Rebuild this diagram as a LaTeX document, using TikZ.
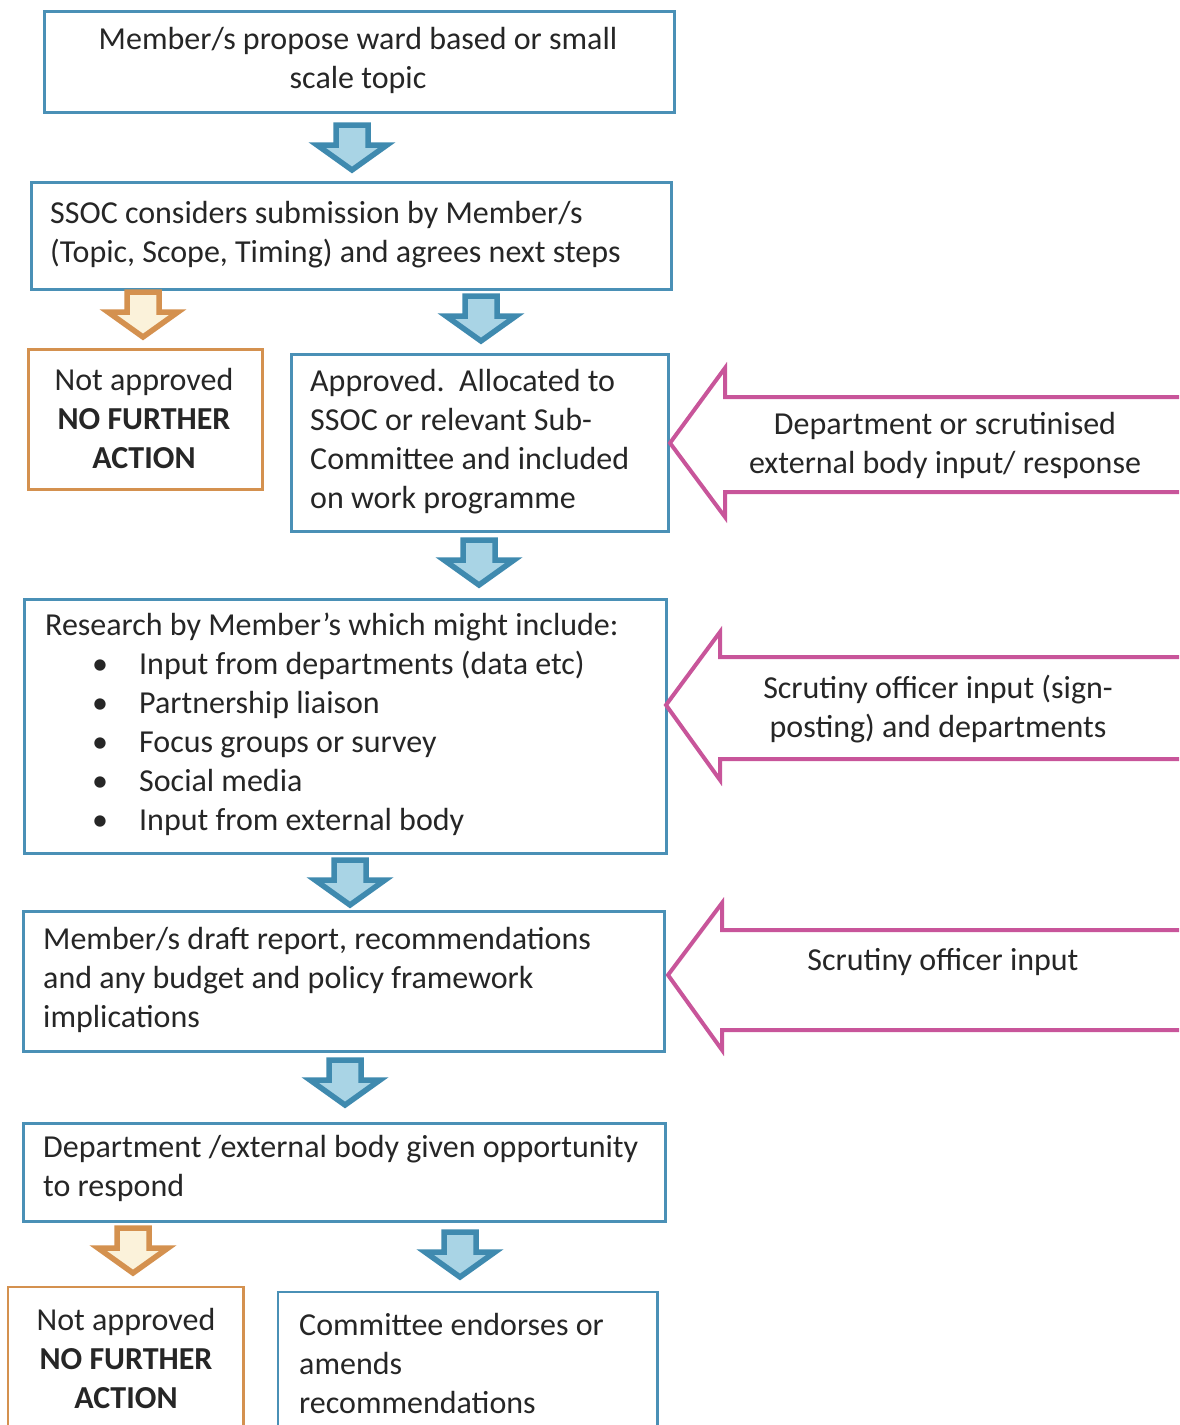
\documentclass[tikz,border=0pt]{standalone}
\usepackage{fontspec}
\setmainfont{Carlito}
\definecolor{boxblue}{HTML}{4A90B6}
\definecolor{arrblue}{HTML}{3F8AAF}
\definecolor{arrfill}{HTML}{A9D4E5}
\definecolor{boxorange}{HTML}{D4914F}
\definecolor{arrofill}{HTML}{FBF2DA}
\definecolor{pinkline}{HTML}{C8559A}
\definecolor{txt}{HTML}{262626}
\newcommand{\blockdn}[3]{%
  \draw[#3] ({#1-16},{#2+2}) -- ({#1+16},{#2+2}) -- ({#1+16},{#2+22}) -- ({#1+35},{#2+22})
    -- ({#1},{#2+47}) -- ({#1-35},{#2+22}) -- ({#1-16},{#2+22}) -- cycle;}
\begin{document}
\begin{tikzpicture}[x=1pt,y=-1pt,
  every node/.style={font=\fontsize{32}{39}\selectfont, text=txt},
  bluebox/.style={draw=boxblue, line width=2.5pt, fill=white, anchor=north west, inner sep=0pt},
  orangebox/.style={draw=boxorange, line width=2.5pt, fill=white, anchor=north west, inner sep=0pt},
  openbox/.style={draw=none, anchor=north west, inner sep=0pt},
  blueblock/.style={draw=arrblue, fill=arrfill, line width=5.5pt, line join=miter},
  orangeblock/.style={draw=boxorange, fill=arrofill, line width=5.5pt, line join=miter},
  pinkarrow/.style={draw=pinkline, fill=white, line width=4pt, line join=miter},
  lefttext/.style={anchor=west, align=left, inner sep=0pt},
  centertext/.style={anchor=center, align=center, inner sep=0pt}
]
\useasboundingbox (0,0) rectangle (1179,1425);

% boxes
\node[bluebox, minimum width=630pt, minimum height=101pt] (b1) at (43,10) {};
\node[bluebox, minimum width=640pt, minimum height=107pt] (b2) at (30,181) {};
\node[orangebox, minimum width=234pt, minimum height=140pt] (n1) at (27,348) {};
\node[bluebox, minimum width=377pt, minimum height=177pt] (b3) at (290,353) {};
\node[bluebox, minimum width=642pt, minimum height=254pt] (b4) at (23,598) {};
\node[bluebox, minimum width=641pt, minimum height=140pt] (b5) at (22,910) {};
\node[bluebox, minimum width=642pt, minimum height=98pt] (b6) at (22,1122) {};
\node[openbox, minimum width=235pt, minimum height=138pt] (n2) at (8,1287) {};
\draw[boxorange, line width=2.5pt] (n2.south west) -- (n2.north west) -- (n2.north east) -- (n2.south east);
\node[openbox, minimum width=379pt, minimum height=133pt] (b7) at (278,1292) {};
\draw[boxblue, line width=2.5pt] (b7.south west) -- (b7.north west) -- (b7.north east) -- (b7.south east);

% texts
\node[centertext] (t1) at (358,60) {Member/s propose ward based or small\\scale topic};
\node[lefttext] (t2) at (50,235) {SSOC considers submission by Member/s\\(Topic, Scope, Timing) and agrees next steps};
\node[centertext] (tn1) at (144,418) {Not approved\\\textbf{NO FURTHER}\\\textbf{ACTION}};
\node[lefttext] (t3) at (310,441.5) {Approved.\ \ Allocated to\\SSOC or relevant Sub-\\Committee and included\\on work programme};
\node[lefttext] (t4) at (45,724) {Research by Member’s which might include:\\
\hspace*{47pt}\makebox[47pt][l]{•}Input from departments (data etc)\\
\hspace*{47pt}\makebox[47pt][l]{•}Partnership liaison\\
\hspace*{47pt}\makebox[47pt][l]{•}Focus groups or survey\\
\hspace*{47pt}\makebox[47pt][l]{•}Social media\\
\hspace*{47pt}\makebox[47pt][l]{•}Input from external body};
\node[lefttext] (t5) at (43,980) {Member/s draft report, recommendations\\and any budget and policy framework\\implications};
\node[lefttext] (t6) at (43,1168) {Department /external body given opportunity\\to respond};
\node[centertext] (tn2) at (126,1358) {Not approved\\\textbf{NO FURTHER}\\\textbf{ACTION}};
\node[lefttext] (t7) at (299,1363) {Committee endorses or\\amends\\recommendations};

% block arrows (downward)
\blockdn{352}{123}{blueblock}
\blockdn{143}{290}{orangeblock}
\blockdn{481}{294}{blueblock}
\blockdn{479}{538}{blueblock}
\blockdn{350}{858}{blueblock}
\blockdn{345}{1058}{blueblock}
\blockdn{133}{1226}{orangeblock}
\blockdn{460}{1230}{blueblock}

% pink input arrows
\draw[pinkarrow] (1179,397) -- (725,397) -- (725,368) -- (670,443) -- (725,517) -- (725,492) -- (1179,492);
\node[centertext] (p1) at (945,445) {Department or scrutinised\\external body input/ response};
\draw[pinkarrow] (1179,657) -- (720,657) -- (720,632) -- (666,705) -- (720,780) -- (720,759) -- (1179,759);
\node[centertext] (p2) at (938,709) {Scrutiny officer input (sign-\\posting) and departments};
\draw[pinkarrow] (1179,930) -- (722,930) -- (722,903) -- (668,975) -- (722,1050) -- (722,1030) -- (1179,1030);
\node[centertext] (p3) at (943,962) {Scrutiny officer input};
\end{tikzpicture}
\end{document}
